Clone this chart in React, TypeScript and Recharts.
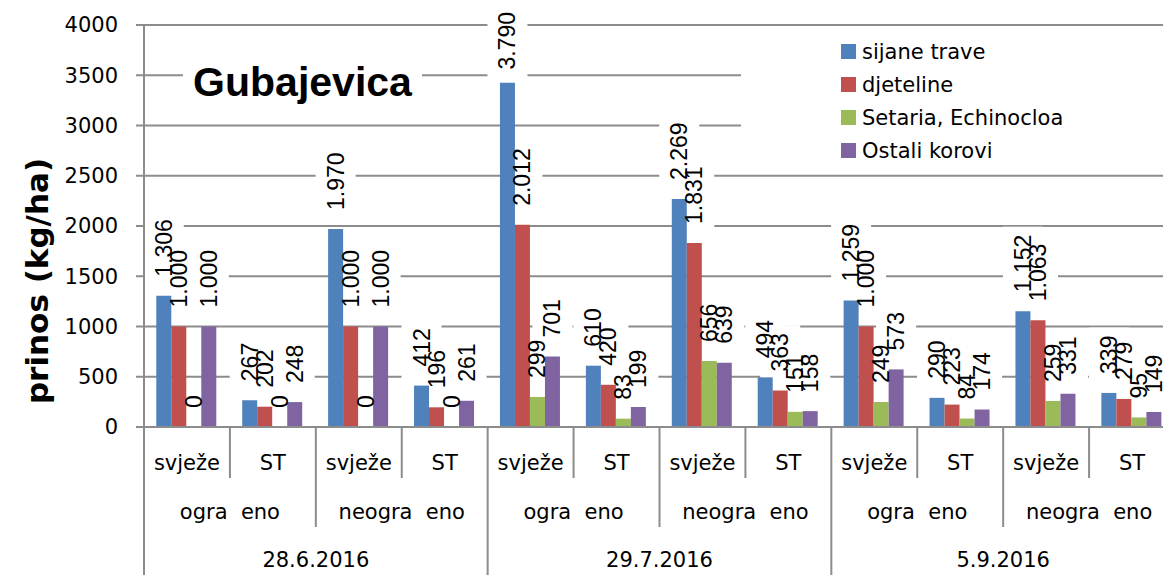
import { Bar, BarChart, CartesianGrid, LabelList, Legend, XAxis, YAxis } from "recharts";

const dates = ["28.6.2016", "29.7.2016", "5.9.2016"];
const fences = ["ogra\u00a0\u00a0eno", "neogra\u00a0\u00a0eno"];
const treatments = ["svježe", "ST"];

const seriesNames = ["sijane trave", "djeteline", "Setaria, Echinocloa", "Ostali korovi"];
const seriesColors = ["#4f81bd", "#c0504d", "#9bbb59", "#8064a2"];

// bar heights as drawn
const sijaneTrave = [1306, 267, 1970, 412, 3425, 610, 2269, 494, 1259, 290, 1152, 339];
// printed labels (the 29.7. one differs from its bar)
const sijaneTraveLabels = [1306, 267, 1970, 412, 3790, 610, 2269, 494, 1259, 290, 1152, 339];
const djeteline = [1000, 202, 1000, 196, 2012, 420, 1831, 363, 1000, 223, 1063, 279];
const setaria = [0, 0, 0, 0, 299, 83, 656, 151, 249, 84, 259, 95];
const ostaliKorovi = [1000, 248, 1000, 261, 701, 199, 639, 158, 573, 174, 331, 149];

const yTicks = [0, 500, 1000, 1500, 2000, 2500, 3000, 3500, 4000];

const GRID = "#8c8c8c";
const TEXT_FONT = "'DejaVu Sans', sans-serif";
const LABEL_FONT = "'Liberation Sans', Arial, sans-serif";
const LABEL_SIZE = 23;

const fmt = (v: number) =>
  v >= 1000 ? `${Math.floor(v / 1000)}.${String(v % 1000).padStart(3, "0")}` : String(v);

const categories = dates.flatMap((date) =>
  fences.flatMap((fence) => treatments.map((treatment) => ({ date, fence, treatment })))
);

const data = categories.map((c, i) => ({
  name: `${c.date}|${c.fence}|${c.treatment}`,
  ...c,
  s0: sijaneTrave[i],
  s1: djeteline[i],
  s2: setaria[i],
  s3: ostaliKorovi[i],
  l0: fmt(sijaneTraveLabels[i]),
  l1: fmt(djeteline[i]),
  l2: fmt(setaria[i]),
  l3: fmt(ostaliKorovi[i]),
}));

function labelLength(s: string) {
  let w = 0;
  for (const ch of s) w += ch === "." ? 0.278 : 0.556;
  return w * LABEL_SIZE;
}

function placeLabel(x: number, y: number, w: number, h: number, text: string) {
  const top = h >= 0 ? y : y + h;
  const len = labelLength(text);
  let start = top - 19;
  if (start - len < 12) start = 12 + len;
  return { cx: x + w / 2, start, len };
}

// white label backgrounds, drawn as a bar shape so they sit under the coloured bars
function boxShape(labelKey: string) {
  return (props: any) => {
    const text = String(props.payload?.[labelKey] ?? "");
    const { cx, start, len } = placeLabel(
      Number(props.x),
      Number(props.y),
      Number(props.width),
      Number(props.height ?? 0),
      text
    );
    return <rect x={cx - 20} y={start - len - 8} width={40} height={len + 20} fill="#ffffff" />;
  };
}

function TextLabel(props: any) {
  const vb = props.viewBox ?? props;
  const text = String(props.value ?? "");
  const { cx, start } = placeLabel(
    Number(props.x ?? vb.x),
    Number(props.y ?? vb.y),
    Number(props.width ?? vb.width),
    Number(props.height ?? vb.height ?? 0),
    text
  );
  return (
    <text
      x={cx}
      y={start}
      transform={`rotate(-90 ${cx} ${start})`}
      textAnchor="start"
      dominantBaseline="central"
      fontSize={LABEL_SIZE}
      fontFamily={LABEL_FONT}
      fill="#000"
    >
      {text}
    </text>
  );
}

function CategoryTick(props: any) {
  const { x, y, payload } = props;
  const i: number = payload?.index ?? props.index ?? 0;
  const half: number = payload?.offset || 43;
  const row = data[i];
  const left = x - half;
  const sepLen = i % 4 === 0 ? 148 : i % 2 === 0 ? 100 : 51;
  const textProps = { fontSize: 21, fontFamily: TEXT_FONT, fill: "#000", textAnchor: "middle" as const };
  return (
    <g>
      <line x1={left} x2={left} y1={y} y2={y + sepLen} stroke={GRID} strokeWidth={2} />
      {i === data.length - 1 && (
        <line x1={x + half} x2={x + half} y1={y} y2={y + 148} stroke={GRID} strokeWidth={2} />
      )}
      <text x={x} y={y + 43} {...textProps}>
        {row.treatment}
      </text>
      {i % 2 === 0 && (
        <text x={x + half} y={y + 92} {...textProps}>
          {row.fence}
        </text>
      )}
      {i % 4 === 0 && (
        <text x={x + 3 * half} y={y + 140} {...textProps}>
          {row.date}
        </text>
      )}
    </g>
  );
}

function YTitle(props: any) {
  const vb = props.viewBox ?? { x: 0, y: 25 };
  const cx = vb.x + 37;
  const cy = vb.y + 256;
  return (
    <text
      x={cx}
      y={cy}
      transform={`rotate(-90 ${cx} ${cy})`}
      textAnchor="middle"
      dominantBaseline="central"
      fontSize={31}
      fontWeight="bold"
      fontFamily={TEXT_FONT}
      fill="#000"
    >
      prinos (kg/ha)
    </text>
  );
}

function LegendBox() {
  return (
    <div style={{ paddingTop: 8, paddingLeft: 100, fontFamily: TEXT_FONT, fontSize: 21, color: "#000" }}>
      {seriesNames.map((n, i) => (
        <div key={n} style={{ display: "flex", alignItems: "center", height: 33, whiteSpace: "nowrap" }}>
          <span style={{ width: 15, height: 15, background: seriesColors[i], marginRight: 6, display: "inline-block" }} />
          <span>{n}</span>
        </div>
      ))}
    </div>
  );
}

export default function App() {
  const keys = ["s0", "s1", "s2", "s3"];
  const labelKeys = ["l0", "l1", "l2", "l3"];
  return (
    <div
      style={{
        position: "absolute",
        left: 0,
        top: 0,
        width: 1163,
        height: 575,
        overflow: "hidden",
        background: "#fff",
        fontFamily: TEXT_FONT,
      }}
    >
      <BarChart
        width={1175}
        height={575}
        data={data}
        margin={{ top: 25, right: 0, left: 0, bottom: 0 }}
        barCategoryGap="14.3%"
        barGap={0}
      >
        <CartesianGrid vertical={false} stroke={GRID} strokeWidth={2} />
        <XAxis
          dataKey="name"
          height={148}
          interval={0}
          tickLine={false}
          tickSize={0}
          tickMargin={0}
          axisLine={{ stroke: GRID, strokeWidth: 2 }}
          tick={<CategoryTick />}
        />
        <XAxis xAxisId="box" dataKey="name" hide />
        <XAxis xAxisId="text" dataKey="name" hide />
        <YAxis
          width={144}
          domain={[0, 4000]}
          ticks={yTicks}
          interval={0}
          tickSize={8}
          tickMargin={18}
          axisLine={{ stroke: GRID, strokeWidth: 2 }}
          tickLine={{ stroke: GRID, strokeWidth: 2 }}
          tick={{ fontSize: 21, fontFamily: TEXT_FONT, fill: "#000" }}
          label={{ content: <YTitle /> }}
        />
        {keys.map((k, i) => (
          <Bar
            key={`b${k}`}
            xAxisId="box"
            dataKey={k}
            legendType="none"
            minPointSize={0.01}
            shape={boxShape(labelKeys[i])}
            isAnimationActive={false}
          />
        ))}
        {keys.map((k, i) => (
          <Bar key={k} dataKey={k} name={seriesNames[i]} fill={seriesColors[i]} isAnimationActive={false} />
        ))}
        {keys.map((k, i) => (
          <Bar
            key={`t${k}`}
            xAxisId="text"
            dataKey={k}
            fill="transparent"
            legendType="none"
            minPointSize={0.01}
            isAnimationActive={false}
          >
            <LabelList dataKey={labelKeys[i]} content={<TextLabel />} />
          </Bar>
        ))}
        <Legend
          layout="horizontal"
          verticalAlign="middle"
          align="center"
          wrapperStyle={{ position: "absolute", left: 741, top: 27, width: 422, height: 146, background: "#fff" }}
          content={<LegendBox />}
        />
      </BarChart>
      <div
        style={{
          position: "absolute",
          left: 183,
          top: 57,
          width: 239,
          height: 50,
          lineHeight: "50px",
          background: "#fff",
          textAlign: "center",
          fontFamily: "'Liberation Sans', Arial, sans-serif",
          fontWeight: "bold",
          fontSize: 41,
          color: "#000",
        }}
      >
        Gubajevica
      </div>
    </div>
  );
}
